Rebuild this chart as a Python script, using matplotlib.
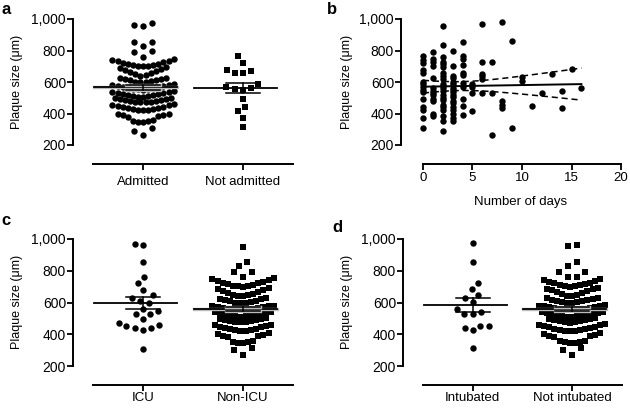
import numpy as np
import matplotlib.pyplot as plt
import matplotlib.patheffects as pe
from matplotlib.ticker import FuncFormatter

plt.rcParams['font.family'] = ['Liberation Sans', 'DejaVu Sans']

# plaque sizes (um).
# big columns are given row by row, as GraphPad stacks them in bands
admitted_rows = [
    [958, 965, 975],
    [830, 852, 857],
    [760, 790, 795],
    [700, 701, 703, 706, 709, 713, 717, 721, 726, 731, 736, 741, 747],
    [640, 643, 648, 655, 662, 670, 677, 684, 690, 695],
    [598, 600, 603, 606, 610, 613, 617, 620, 623, 627],
    [552, 554, 556, 558, 561, 564, 567, 570, 573, 576, 579, 582, 586],
    [505, 507, 509, 512, 515, 518, 521, 524, 527, 530, 534, 537, 541],
    [470, 472, 474, 476, 479, 482, 485, 488, 491, 494, 497, 500],
    [420, 422, 425, 428, 431, 434, 437, 440, 444, 448, 452, 456, 460],
    [345, 347, 350, 353, 356, 380, 384, 388, 392, 396, 400],
    [265, 292, 310],
]
not_admitted = [765, 722, 678, 670, 657, 655, 590, 568, 555, 552, 560,
                492, 440, 415, 372, 312]

icu = [970, 963, 857, 760, 722, 680, 645, 630, 610, 600, 560, 545, 528,
       525, 495, 472, 452, 440, 428, 438, 458, 307]
non_icu_rows = [
    [952],
    [830, 857],
    [760, 792, 795],
    [700, 702, 704, 707, 711, 715, 720, 725, 731, 737, 743, 748, 752],
    [640, 642, 645, 649, 654, 660, 666, 672, 678, 684, 690],
    [595, 597, 600, 603, 607, 611, 615, 619, 623, 628],
    [550, 552, 554, 556, 558, 560, 563, 566, 569, 572, 575, 578, 581],
    [510, 512, 515, 518, 521, 524, 527, 530, 533, 536, 539, 542],
    [475, 477, 479, 481, 484, 487, 490, 493, 496, 500],
    [420, 423, 426, 429, 432, 436, 440, 444, 448, 452, 456, 460],
    [345, 348, 350, 353, 356, 382, 386, 390, 395, 400, 405],
    [268, 298, 311],
]

intubated = [973, 857, 721, 683, 647, 630, 605, 559, 542, 527, 527,
             454, 452, 441, 427, 311]
not_intubated_rows = [
    [955, 962],
    [830, 857],
    [758, 760, 792, 795],
    [700, 702, 705, 708, 712, 716, 720, 725, 730, 736, 742, 748],
    [640, 643, 647, 652, 658, 664, 670, 676, 682, 688, 693],
    [595, 598, 601, 604, 607, 610, 614, 618, 622, 626, 630],
    [550, 552, 554, 556, 558, 560, 563, 566, 569, 572, 575, 578, 581, 584],
    [508, 510, 513, 516, 519, 522, 525, 528, 531, 534, 537, 540, 543],
    [474, 476, 478, 481, 484, 487, 490, 493, 496, 500],
    [418, 420, 423, 426, 429, 432, 436, 440, 444, 448, 452, 456, 460, 464],
    [344, 347, 350, 353, 356, 358, 382, 386, 390, 395, 400, 405],
    [268, 298, 311],
]

# panel b: plaque size by number of days in hospital
days_values = {
    0: [765, 740, 720, 676, 655, 600, 585, 570, 550, 538, 495, 440, 420, 370, 310],
    1: [790, 745, 725, 700, 625, 565, 545, 530, 515, 490, 478, 400, 385],
    2: [958, 835, 760, 730, 712, 695, 660, 640, 620, 590, 575, 560, 545, 515,
        500, 485, 455, 440, 425, 385, 350, 290],
    3: [795, 700, 640, 625, 600, 585, 565, 550, 535, 520, 505, 480, 465, 440,
        420, 400, 370, 355],
    4: [855, 765, 745, 708, 660, 645, 595, 570, 490, 445, 390],
    5: [588, 570, 530, 418],
    6: [970, 728, 650, 635, 620, 528],
    7: [725, 528, 265],
    8: [978, 480, 455, 432],
    9: [860, 310],
    10: [630, 605],
    11: [448],
    12: [528],
    13: [649],
    14: [543, 438],
    15: [683],
    16: [560],
}

T_95 = 1.98
PX_PER_UM = 126 / 800.0
PX_PER_CAT = 100.0


def swarm_offsets(values, dx_px=8.5):
    # plain beeswarm for the small columns
    vals = np.asarray(values, float)
    placed = []
    offs = np.zeros(len(vals))
    for i in np.argsort(vals, kind='stable'):
        y = vals[i] * PX_PER_UM
        near = [(px, py) for px, py in placed if abs(py - y) < dx_px]
        cands = [0.0]
        for px, py in near:
            d = np.sqrt(dx_px ** 2 - (py - y) ** 2)
            cands += [px - d, px + d]
        cands.sort(key=abs)
        for c in cands:
            if all((c - px) ** 2 + (y - py) ** 2 >= dx_px ** 2 - 1e-6 for px, py in near):
                break
        offs[i] = c
        placed.append((c, y))
    return offs / PX_PER_CAT


def row_layout(rows):
    # each band spread side by side, lowest value in the middle
    xs, ys = [], []
    for row in rows:
        row = sorted(row)
        n = len(row)
        step = 8.8 if n <= 4 else 5.1
        slots = sorted(np.arange(n) - (n - 1) / 2.0, key=lambda v: (abs(v), v))
        for v, sl in zip(row, slots):
            xs.append(sl * step / PX_PER_CAT)
            ys.append(v)
    return np.array(xs), np.array(ys)


def add_ax(l, t, r, b):
    return fig.add_axes([l / 630, 1 - b / 408, (r - l) / 630, (b - t) / 408])


def style_ax(ax, left_out, xpad):
    for s in ['top', 'right']:
        ax.spines[s].set_visible(False)
    ax.spines['left'].set_position(('outward', left_out * 0.72))
    ax.spines['bottom'].set_position(('outward', 19 * 0.72))
    for s in ['left', 'bottom']:
        ax.spines[s].set_linewidth(1.4)
    ax.set_ylim(200, 1000)
    ax.set_yticks([200, 400, 600, 800, 1000])
    ax.yaxis.set_major_formatter(FuncFormatter(lambda v, p: f'{int(v):,}'))
    ax.tick_params(axis='y', length=4, width=1.3, pad=1, labelsize=10)
    ax.tick_params(axis='x', length=4, width=1.3, pad=xpad, labelsize=9.5)
    ax.patch.set_visible(False)


def dot_panel(ax, groups, markers, labels):
    for k, (grp, mk) in enumerate(zip(groups, markers)):
        x0 = k + 1
        dense = isinstance(grp[0], list)
        if dense:
            offs, vals = row_layout(grp)
        else:
            vals = np.asarray(grp, float)
            offs = swarm_offsets(vals)
        ax.plot(x0 + offs, vals, mk, color='black', ms=4.6 if mk == 'o' else 4.3,
                mew=0, ls='none', clip_on=False, zorder=2)
        m = np.mean(vals)
        sem = np.std(vals, ddof=1) / np.sqrt(len(vals))
        fx = [pe.withStroke(linewidth=2.4, foreground='#bbbbbb')] if dense else None
        ax.plot([x0 - 0.49, x0 + 0.34], [m, m], color='black', lw=1.3, zorder=3,
                path_effects=fx)
        for yy in (m - sem, m + sem):
            ax.plot([x0 - 0.17, x0 + 0.17], [yy, yy], color='black', lw=1.1, zorder=3,
                    path_effects=fx)
        ax.plot([x0, x0], [m - sem, m + sem], color='black', lw=1.1, zorder=3)
    ax.set_xlim(0.5, 2.5)
    ax.set_xticks([1, 2])
    ax.set_xticklabels(labels)


fig = plt.figure(figsize=(6.3, 4.08), dpi=100)

ax_a = add_ax(93, 19, 293, 145)
style_ax(ax_a, 20, 4.5)
dot_panel(ax_a, [admitted_rows, not_admitted], ['o', 's'], ['Admitted', 'Not admitted'])

ax_b = add_ax(423, 19, 621, 145)
style_ax(ax_b, 22, 1.5)
bx = np.concatenate([[d] * len(v) for d, v in days_values.items()])
by = np.concatenate([v for v in days_values.values()])
ax_b.plot(bx, by, 'o', color='black', ms=4.6, mew=0, ls='none', clip_on=False)
slope, icpt = np.polyfit(bx, by, 1)
resid = by - (slope * bx + icpt)
s = np.sqrt(np.sum(resid ** 2) / (len(bx) - 2))
xx = np.linspace(bx.min(), bx.max(), 100)
yy = slope * xx + icpt
se = s * np.sqrt(1 / len(bx) + (xx - bx.mean()) ** 2 / np.sum((bx - bx.mean()) ** 2))
ax_b.plot(xx, yy, color='black', lw=1.4)
ax_b.plot(xx, yy + T_95 * se, color='black', lw=1.1, dashes=(4, 2.5))
ax_b.plot(xx, yy - T_95 * se, color='black', lw=1.1, dashes=(4, 2.5))
ax_b.set_xlim(0, 20)
ax_b.set_xticks([0, 5, 10, 15, 20])
fig.text(521 / 630, 1 - 202 / 408, 'Number of days', ha='center', va='center', fontsize=9.5)

ax_c = add_ax(93, 239, 293, 366)
style_ax(ax_c, 20, 0.8)
dot_panel(ax_c, [icu, non_icu_rows], ['o', 's'], ['ICU', 'Non-ICU'])

ax_d = add_ax(423, 239, 622, 366)
style_ax(ax_d, 20, 0.8)
dot_panel(ax_d, [intubated, not_intubated_rows], ['o', 's'], ['Intubated', 'Not intubated'])

for x, y in [(17, 82), (347, 82), (17, 302), (347, 302)]:
    fig.text(x / 630, 1 - y / 408, 'Plaque size (\u03bcm)', rotation=90,
             ha='center', va='center', fontsize=9)

for letter, x, y in [('a', 6, 10), ('b', 332, 10), ('c', 6, 221), ('d', 337, 227)]:
    fig.text(x / 630, 1 - y / 408, letter, fontweight='bold', fontsize=12,
             ha='center', va='center')

fig.savefig('out.png', dpi=100)
